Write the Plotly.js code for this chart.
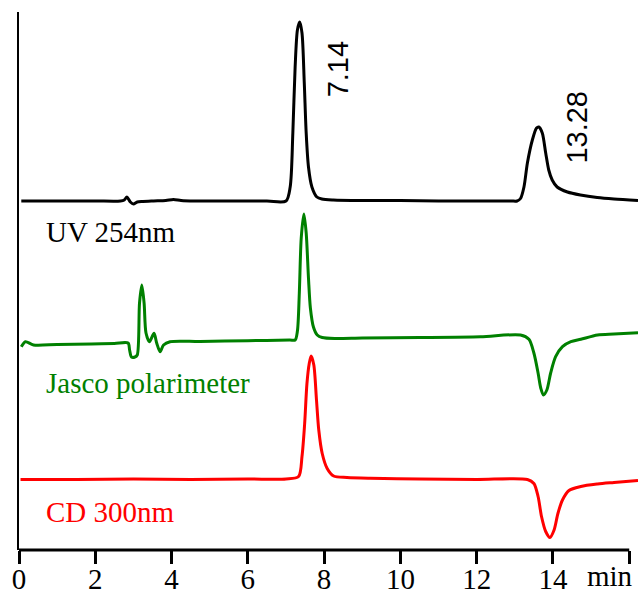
<!DOCTYPE html>
<html>
<head>
<meta charset="utf-8">
<script src="https://cdn.plot.ly/plotly-3.0.1.min.js"></script>
<style>html,body{margin:0;padding:0;background:#fff;}#chart{width:638px;height:594px;}</style>
</head>
<body>
<div id="chart"></div>
<script>
// Retention time (min) and signal (relative to each trace's own baseline)
const uvTime = [0.06, 1.0, 2.0, 2.66, 2.76, 2.83, 2.92, 3.0, 3.1, 3.25, 3.53, 3.85, 4.05, 4.25, 4.6, 5.5, 6.5, 7.0, 7.11, 7.18, 7.24, 7.30, 7.36, 7.42, 7.48, 7.53, 7.59, 7.68, 7.81, 7.94, 8.24, 9.0, 10.0, 11.0, 12.0, 12.9, 13.06, 13.15, 13.24, 13.33, 13.46, 13.57, 13.63, 13.72, 13.81, 13.89, 13.98, 14.11, 14.38, 14.72, 15.16, 15.60, 16.23];
const uvSignal = [0, 0, 0, 0, 1, 4, -1, -3, -1, -0.5, 0, 0.5, 1.5, 0.5, 0, 0, 0, 0, 14, 68, 134, 171, 179, 168, 118, 68, 34, 14, 4, 2, 1, 0.5, 0.5, 0, 0, 0, 0, 2.5, 14, 38, 61, 73, 74, 68, 48, 31, 21, 14, 9, 6, 3.5, 2, 0.5];

const jascoTime = [0.06, 0.17, 0.38, 1.0, 1.9, 2.5, 2.86, 2.9, 2.95, 3.04, 3.10, 3.16, 3.22, 3.28, 3.33, 3.42, 3.54, 3.61, 3.70, 3.79, 3.96, 4.75, 6.0, 7.1, 7.24, 7.30, 7.35, 7.40, 7.47, 7.53, 7.59, 7.64, 7.72, 7.82, 7.95, 8.29, 9.0, 10.5, 12.1, 13.15, 13.37, 13.50, 13.61, 13.68, 13.75, 13.84, 13.94, 14.07, 14.25, 14.47, 14.73, 15.17, 15.60, 16.23];
const jascoSignal = [-3.7, 1.3, -2, -1.5, -1, -0.5, 0, -7, -14, -14, -12, 40, 58, 40, 10, 1.3, 9.7, 0, -8.7, -2, 1.3, 1.5, 2.3, 3, 3, 12, 50, 105, 129, 110, 65, 35, 16, 8, 5.5, 4.5, 5, 5.5, 6.3, 8, 3.7, -10, -30, -45, -52, -47, -30, -13.7, -3.7, 1.3, 3.7, 8, 9, 10.3];

const cdTime = [0.04, 1.5, 3.0, 4.5, 6.0, 7.0, 7.33, 7.42, 7.49, 7.55, 7.61, 7.66, 7.73, 7.80, 7.86, 7.95, 8.08, 8.25, 8.60, 9.21, 10.5, 12.0, 13.33, 13.50, 13.61, 13.70, 13.81, 13.92, 14.03, 14.13, 14.25, 14.42, 14.73, 15.17, 15.60, 16.23];
const cdSignal = [0, 0, 0.5, 0, 0.5, 0.5, 3, 23, 56, 96, 116, 123.5, 114.5, 79.5, 49.5, 26, 11, 3.5, 2, 1.2, 0.5, 0, 0, -4, -17, -37, -52, -58, -50.5, -34, -20.5, -11, -7, -4.5, -3, -1];

const traceNames = ['UV 254nm', 'Jasco polarimeter', 'CD 300nm'];
const peakLabels = ['7.14', '13.28'];
const tickValues = [0, 2, 4, 6, 8, 10, 12, 14, 16];
const tickLabels = ['0', '2', '4', '6', '8', '10', '12', '14', ''];
const unitLabel = 'min';

// vertical stacking offsets
const offsets = [349, 207, 70.5];
const colors = ['#000000', '#008000', '#ff0000'];
const shift = (arr, o) => arr.map(v => v + o);

const traces = [
  {x: uvTime, y: shift(uvSignal, offsets[0])},
  {x: jascoTime, y: shift(jascoSignal, offsets[1])},
  {x: cdTime, y: shift(cdSignal, offsets[2])}
].map((t, i) => Object.assign(t, {
  type: 'scatter', mode: 'lines', name: traceNames[i],
  line: {color: colors[i], width: 3, shape: 'spline', smoothing: 0.8},
  hoverinfo: 'skip'
}));

const serif = '"Liberation Serif", "Times New Roman", serif';
const sans = '"Liberation Sans", Arial, sans-serif';

const annotations = [
  {text: traceNames[0], x: 0.69, y: 318, xanchor: 'left', yanchor: 'middle', font: {color: colors[0]}},
  {text: traceNames[1], x: 0.69, y: 167, xanchor: 'left', yanchor: 'middle', font: {color: colors[1]}},
  {text: traceNames[2], x: 0.69, y: 38, xanchor: 'left', yanchor: 'middle', font: {color: colors[2]}}
].map(a => Object.assign(a, {xref: 'x', yref: 'y', showarrow: false, borderpad: 0,
  font: Object.assign({family: serif, size: 29}, a.font)}));

annotations.push(
  {text: peakLabels[0], x: 8.36, y: 480.5, xref: 'x', yref: 'y', textangle: -90, showarrow: false,
   xanchor: 'center', yanchor: 'middle', font: {family: sans, size: 29, color: '#000'}},
  {text: peakLabels[1], x: 14.62, y: 423, xref: 'x', yref: 'y', textangle: -90, showarrow: false,
   xanchor: 'center', yanchor: 'middle', font: {family: sans, size: 29, color: '#000'}},
  {text: unitLabel, x: 15.5, y: 0, xref: 'x', yref: 'paper', yanchor: 'top', yshift: -9, showarrow: false,
   borderpad: 0, font: {family: serif, size: 29, color: '#000'}}
);

const layout = {
  width: 638, height: 594,
  margin: {l: 19, r: 0, t: 12, b: 44, pad: 0},
  paper_bgcolor: '#fff', plot_bgcolor: '#fff',
  showlegend: false,
  font: {family: serif, size: 29, color: '#000'},
  xaxis: {
    range: [0, 16.23], tickmode: 'array', tickvals: tickValues, ticktext: tickLabels,
    ticks: 'outside', ticklen: 13, tickwidth: 3, tickcolor: '#000',
    ticklabelstandoff: -10,
    showline: false, showgrid: false, zeroline: false,
    tickfont: {family: serif, size: 29, color: '#000'}
  },
  yaxis: {
    range: [0, 538], showline: true, linecolor: '#000', linewidth: 2,
    showticklabels: false, ticks: '', showgrid: false, zeroline: false
  },
  shapes: [
    {type: 'line', xref: 'x', yref: 'paper', x0: 0, x1: 16, y0: 0, y1: 0, line: {color: '#000', width: 3}}
  ],
  annotations: annotations
};

Plotly.newPlot('chart', traces, layout, {displayModeBar: false, staticPlot: true});
</script>
</body>
</html>
